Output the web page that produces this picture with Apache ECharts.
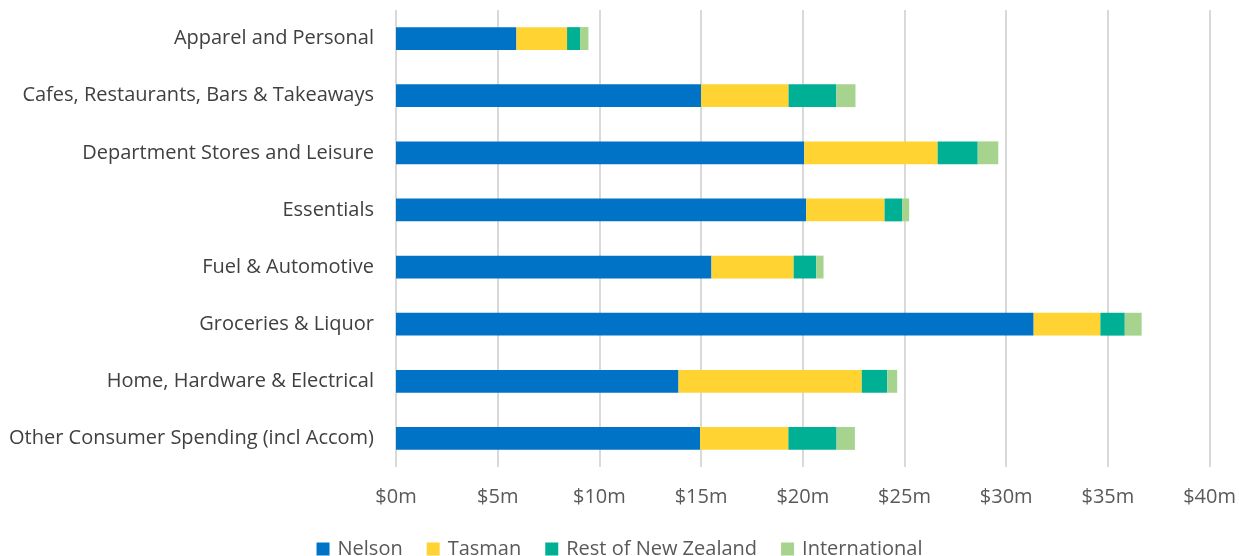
<!DOCTYPE html>
<html><head><meta charset="utf-8">
<script src="https://cdn.jsdelivr.net/npm/echarts@6/dist/echarts.min.js"></script>
<style>html,body{margin:0;padding:0;background:#fff}#c{width:1239px;height:556px}</style>
</head><body><div id="c"></div>
<script>
const categories = ["Apparel and Personal","Cafes, Restaurants, Bars & Takeaways","Department Stores and Leisure","Essentials","Fuel & Automotive","Groceries & Liquor","Home, Hardware & Electrical","Other Consumer Spending (incl Accom)"];
const nelson = [5.92, 15.0, 20.07, 20.17, 15.51, 31.35, 13.89, 14.95];
const tasman = [2.49, 4.3, 6.56, 3.85, 4.04, 3.28, 9.01, 4.34];
const restNZ = [0.64, 2.35, 1.97, 0.86, 1.11, 1.2, 1.25, 2.37];
const international = [0.41, 0.94, 1.01, 0.35, 0.36, 0.83, 0.49, 0.9];
const seriesNames = ["Nelson","Tasman","Rest of New Zealand","International"];
const colors = ["#0173C6","#FFD332","#00B094","#A6D38D"];
const font = "'Open Sans', sans-serif";
const chart = echarts.init(document.getElementById('c'));
const data = [nelson, tasman, restNZ, international];
chart.setOption({
  animation:false,
  grid:{left:396,right:28,top:10,bottom:89,containLabel:false},
  legend:{top:534,left:'center',itemWidth:13,itemHeight:13,itemGap:24,icon:'rect',
    textStyle:{fontFamily:font,fontSize:20,color:'#595959',padding:[0,0,0,3]}},
  xAxis:{type:'value',min:0,max:40,interval:5,
    axisLine:{show:false},axisTick:{show:false},
    splitLine:{lineStyle:{color:'#d9d9d9',width:2}},
    axisLabel:{formatter:v=>'$'+v+'m',fontFamily:font,fontSize:20,color:'#595959',margin:20}},
  yAxis:{type:'category',data:categories,inverse:true,
    axisLine:{show:false},axisTick:{show:false},
    axisLabel:{fontFamily:font,fontSize:20,color:'#404040',margin:22,padding:[4,0,0,0]}},
  series:data.map((d,i)=>({name:seriesNames[i],type:'bar',stack:'t',data:d,barWidth:'40%',
    itemStyle:{color:colors[i]}}))
});
</script></body></html>
